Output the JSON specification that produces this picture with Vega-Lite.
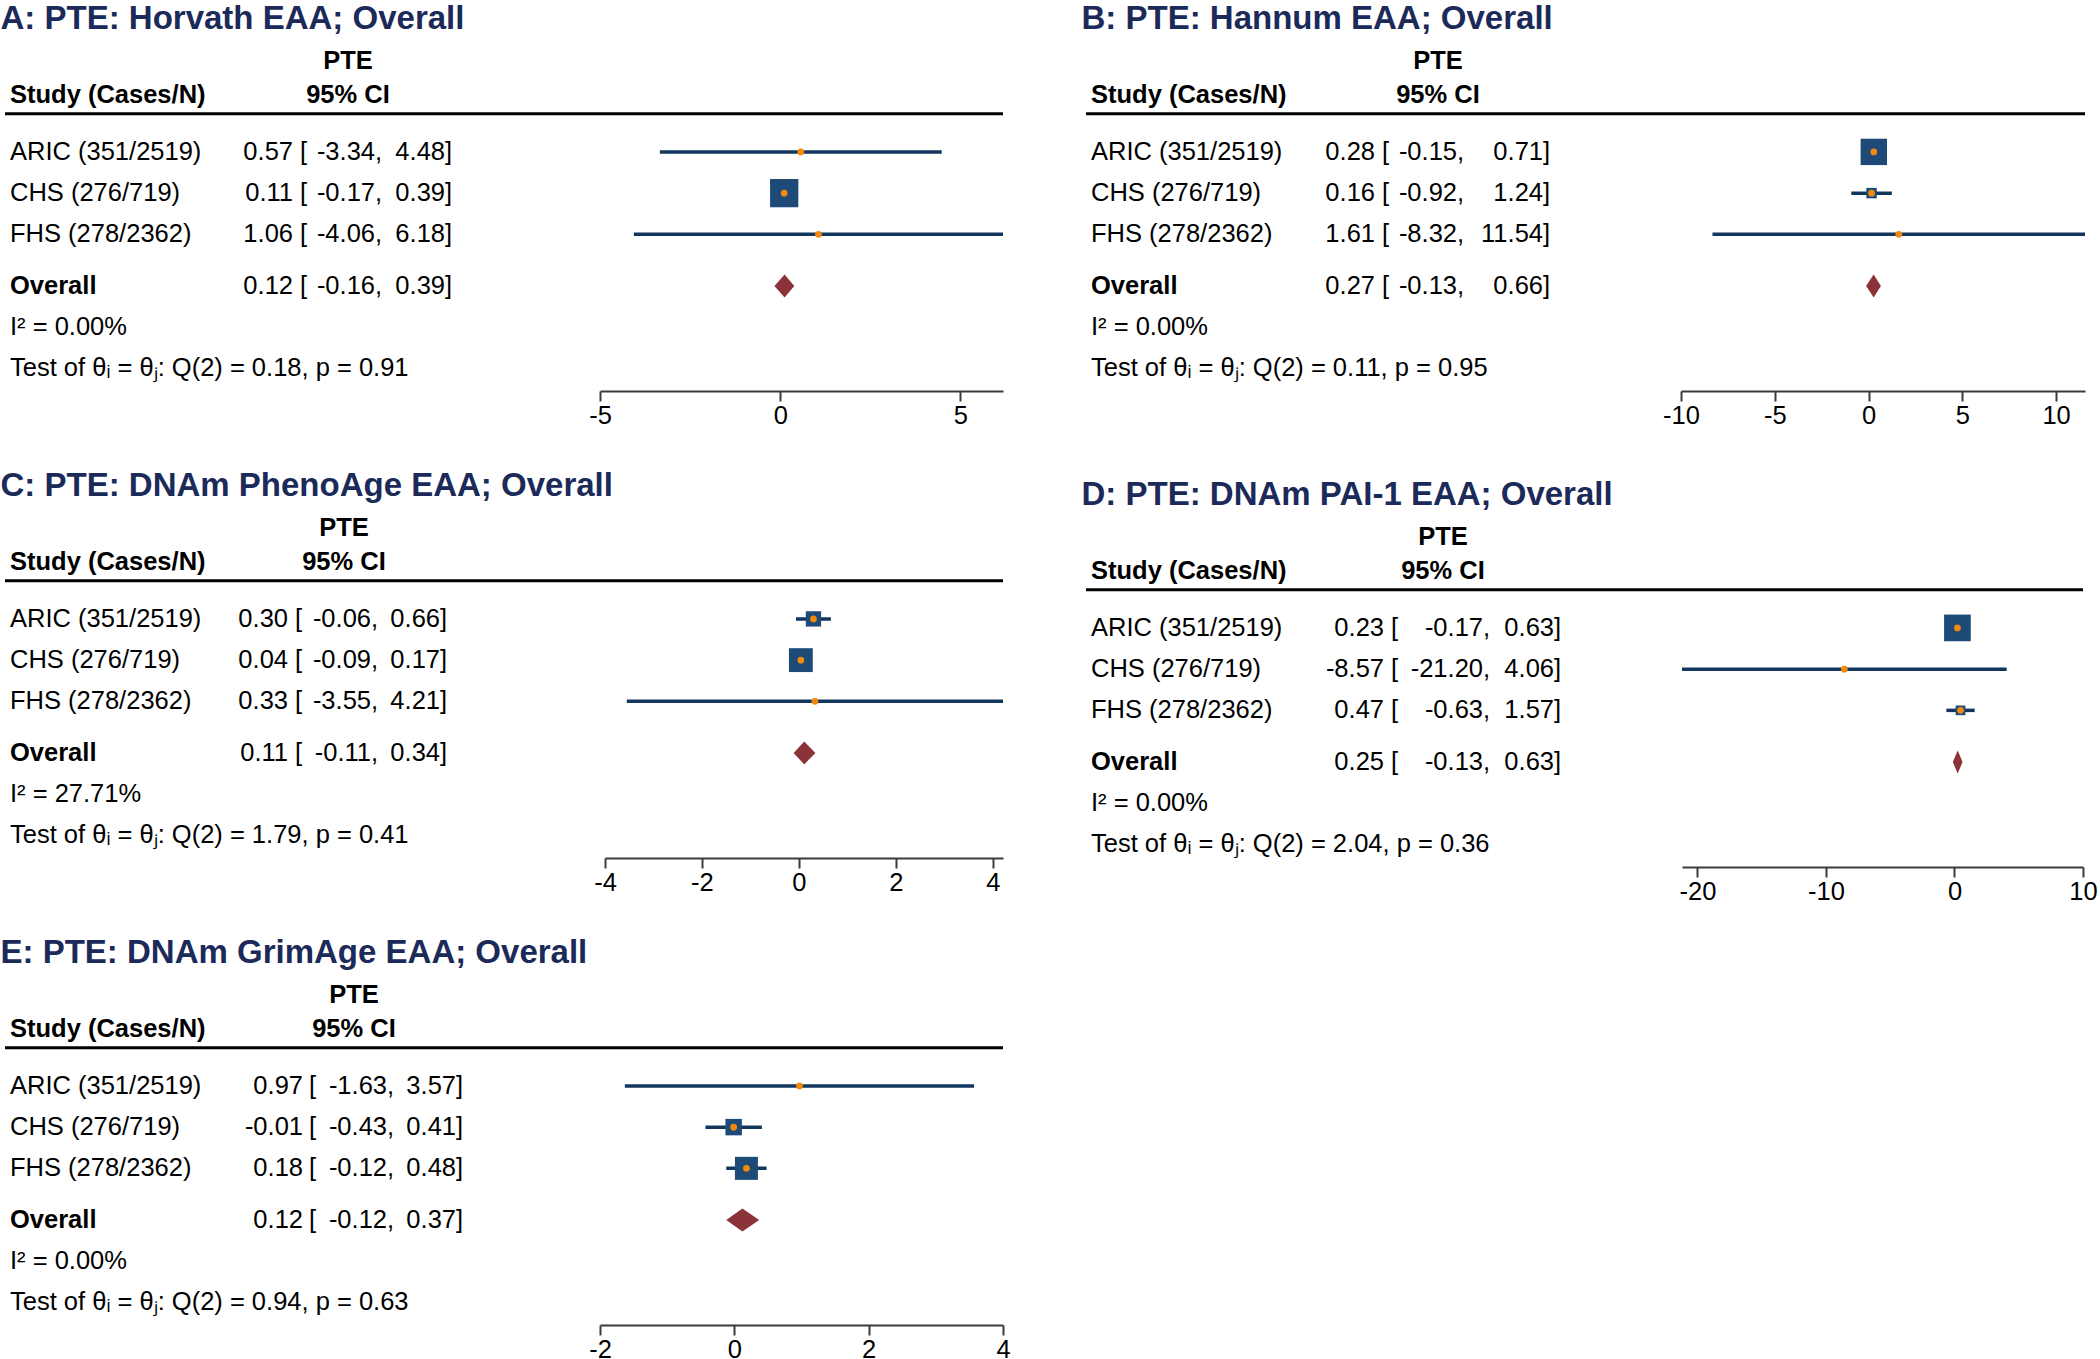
{
"$schema": "https://vega.github.io/schema/vega-lite/v6.json",
"padding": {"left": 0, "top": 3, "right": 0, "bottom": 0},
"datasets": {
"rows": [
{"panel":"A","row":"ARIC","label":"ARIC (351/2519)","est":0.57,"lo":-3.34,"hi":4.48,"w":0.51},
{"panel":"A","row":"CHS","label":"CHS (276/719)","est":0.11,"lo":-0.17,"hi":0.39,"w":99.19},
{"panel":"A","row":"FHS","label":"FHS (278/2362)","est":1.06,"lo":-4.06,"hi":6.18,"w":0.30},
{"panel":"A","row":"Overall","label":"Overall","est":0.12,"lo":-0.16,"hi":0.39},
{"panel":"B","row":"ARIC","label":"ARIC (351/2519)","est":0.28,"lo":-0.15,"hi":0.71,"w":86.2},
{"panel":"B","row":"CHS","label":"CHS (276/719)","est":0.16,"lo":-0.92,"hi":1.24,"w":13.6},
{"panel":"B","row":"FHS","label":"FHS (278/2362)","est":1.61,"lo":-8.32,"hi":11.54,"w":0.16},
{"panel":"B","row":"Overall","label":"Overall","est":0.27,"lo":-0.13,"hi":0.66},
{"panel":"C","row":"ARIC","label":"ARIC (351/2519)","est":0.30,"lo":-0.06,"hi":0.66,"w":29.0},
{"panel":"C","row":"CHS","label":"CHS (276/719)","est":0.04,"lo":-0.09,"hi":0.17,"w":70.6},
{"panel":"C","row":"FHS","label":"FHS (278/2362)","est":0.33,"lo":-3.55,"hi":4.21,"w":0.37},
{"panel":"C","row":"Overall","label":"Overall","est":0.11,"lo":-0.11,"hi":0.34},
{"panel":"D","row":"ARIC","label":"ARIC (351/2519)","est":0.23,"lo":-0.17,"hi":0.63,"w":88.2},
{"panel":"D","row":"CHS","label":"CHS (276/719)","est":-8.57,"lo":-21.20,"hi":4.06,"w":0.09},
{"panel":"D","row":"FHS","label":"FHS (278/2362)","est":0.47,"lo":-0.63,"hi":1.57,"w":11.7},
{"panel":"D","row":"Overall","label":"Overall","est":0.25,"lo":-0.13,"hi":0.63},
{"panel":"E","row":"ARIC","label":"ARIC (351/2519)","est":0.97,"lo":-1.63,"hi":3.57,"w":0.87},
{"panel":"E","row":"CHS","label":"CHS (276/719)","est":-0.01,"lo":-0.43,"hi":0.41,"w":33.5},
{"panel":"E","row":"FHS","label":"FHS (278/2362)","est":0.18,"lo":-0.12,"hi":0.48,"w":65.6},
{"panel":"E","row":"Overall","label":"Overall","est":0.12,"lo":-0.12,"hi":0.37}
],
"stats": [
{"panel":"A","i2":"I² = 0.00%","test":"Test of θᵢ = θⱼ: Q(2) = 0.18, p = 0.91"},
{"panel":"B","i2":"I² = 0.00%","test":"Test of θᵢ = θⱼ: Q(2) = 0.11, p = 0.95"},
{"panel":"C","i2":"I² = 27.71%","test":"Test of θᵢ = θⱼ: Q(2) = 1.79, p = 0.41"},
{"panel":"D","i2":"I² = 0.00%","test":"Test of θᵢ = θⱼ: Q(2) = 2.04, p = 0.36"},
{"panel":"E","i2":"I² = 0.00%","test":"Test of θᵢ = θⱼ: Q(2) = 0.94, p = 0.63"}
],
"headers": [
{"row":"PTE","col":"ci","label":"PTE"},
{"row":"Study","col":"ci","label":"95% CI"},
{"row":"Study","col":"study","label":"Study (Cases/N)"}
]
},
"spacing": 70,
"hconcat": [
{"spacing": 41, "vconcat": [
{"title": {"text": "A: PTE: Horvath EAA; Overall", "dx": -3}, "spacing": 0, "bounds": "flush", "hconcat": [
{"width": 595, "height": 337, "layer": [
{"data":{"name":"headers"},"transform":[{"filter":"datum.row === 'Study' && datum.col === 'study'"}],"mark":{"type":"text","align":"left","fontWeight":"bold"},"encoding":{"x":{"datum":5,"type":"quantitative","scale":{"domain":[0,595],"nice":false,"zero":false},"axis":null},"y":{"field":"row","type":"nominal","scale":{"type":"band","domain":["PTE","s1","s2","Study","s4","s5","rule","s7","s8","ARIC","s10","s11","s12","CHS","s14","s15","s16","FHS","s18","s19","s20","s21","Overall","s23","s24","s25","I2","s27","s28","s29","Test","s31"],"paddingInner":0,"paddingOuter":0.35,"align":0},"axis":null,"bandPosition":1},"text":{"field":"label"}}},
{"data":{"name":"headers"},"transform":[{"filter":"datum.row === 'Study' && datum.col === 'ci'"}],"mark":{"type":"text","align":"center","fontWeight":"bold"},"encoding":{"x":{"datum":343,"type":"quantitative","axis":null},"y":{"field":"row","type":"nominal","axis":null,"bandPosition":1},"text":{"field":"label"}}},
{"data":{"name":"headers"},"transform":[{"filter":"datum.row === 'PTE'"}],"mark":{"type":"text","align":"center","fontWeight":"bold"},"encoding":{"x":{"datum":343,"type":"quantitative","axis":null},"y":{"field":"row","type":"nominal","axis":null,"bandPosition":0.7},"text":{"field":"label"}}},
{"data":{"name":"headers"},"transform":[{"filter":"datum.row === 'PTE'"}],"mark":{"type":"rule","color":"black","strokeWidth":3},"encoding":{"y":{"datum":"s5","type":"nominal","axis":null,"bandPosition":0.8}}},
{"data":{"name":"rows"},"transform":[{"filter":"datum.panel === 'A' && datum.row !== 'Overall'"}],"mark":{"type":"text","align":"left"},"encoding":{"x":{"datum":5,"type":"quantitative","axis":null},"y":{"field":"row","type":"nominal","axis":null,"bandPosition":0.5},"text":{"field":"label"}}},
{"data":{"name":"rows"},"transform":[{"filter":"datum.panel === 'A' && datum.row === 'Overall'"}],"mark":{"type":"text","align":"left","fontWeight":"bold"},"encoding":{"x":{"datum":5,"type":"quantitative","axis":null},"y":{"field":"row","type":"nominal","axis":null,"bandPosition":0.5},"text":{"field":"label"}}},
{"data":{"name":"rows"},"transform":[{"filter":"datum.panel === 'A'"}],"mark":{"type":"text","align":"right"},"encoding":{"x":{"datum":288,"type":"quantitative","axis":null},"y":{"field":"row","type":"nominal","axis":null,"bandPosition":0.5},"text":{"field":"est","type":"quantitative","format":".2f"}}},
{"data":{"name":"rows"},"transform":[{"filter":"datum.panel === 'A'"}],"mark":{"type":"text","align":"left","text":"["},"encoding":{"x":{"datum":295,"type":"quantitative","axis":null},"y":{"field":"row","type":"nominal","axis":null,"bandPosition":0.5}}},
{"data":{"name":"rows"},"transform":[{"filter":"datum.panel === 'A'"}],"mark":{"type":"text","align":"right"},"encoding":{"x":{"datum":370,"type":"quantitative","axis":null},"y":{"field":"row","type":"nominal","axis":null,"bandPosition":0.5},"text":{"field":"lo","type":"quantitative","format":".2f"}}},
{"data":{"name":"rows"},"transform":[{"filter":"datum.panel === 'A'"}],"mark":{"type":"text","align":"left","text":","},"encoding":{"x":{"datum":370,"type":"quantitative","axis":null},"y":{"field":"row","type":"nominal","axis":null,"bandPosition":0.5}}},
{"data":{"name":"rows"},"transform":[{"filter":"datum.panel === 'A'"}],"mark":{"type":"text","align":"right"},"encoding":{"x":{"datum":440,"type":"quantitative","axis":null},"y":{"field":"row","type":"nominal","axis":null,"bandPosition":0.5},"text":{"field":"hi","type":"quantitative","format":".2f"}}},
{"data":{"name":"rows"},"transform":[{"filter":"datum.panel === 'A'"}],"mark":{"type":"text","align":"left","text":"]"},"encoding":{"x":{"datum":440,"type":"quantitative","axis":null},"y":{"field":"row","type":"nominal","axis":null,"bandPosition":0.5}}},
{"data":{"name":"stats"},"transform":[{"filter":"datum.panel === 'A'"}],"mark":{"type":"text","align":"left"},"encoding":{"x":{"datum":5,"type":"quantitative","axis":null},"y":{"datum":"I2","type":"nominal","axis":null,"bandPosition":0.5},"text":{"field":"i2"}}},
{"data":{"name":"stats"},"transform":[{"filter":"datum.panel === 'A'"}],"mark":{"type":"text","align":"left"},"encoding":{"x":{"datum":5,"type":"quantitative","axis":null},"y":{"datum":"Test","type":"nominal","axis":null,"bandPosition":0.5},"text":{"field":"test"}}}
]},
{"width": 403, "height": 337, "layer": [
{"data":{"name":"headers"},"transform":[{"filter":"datum.row === 'PTE'"}],"mark":{"type":"rule","color":"black","strokeWidth":3},"encoding":{"y":{"datum":"s5","type":"nominal","scale":{"type":"band","domain":["PTE","s1","s2","Study","s4","s5","rule","s7","s8","ARIC","s10","s11","s12","CHS","s14","s15","s16","FHS","s18","s19","s20","s21","Overall","s23","s24","s25","I2","s27","s28","s29","Test","s31"],"paddingInner":0,"paddingOuter":0.35,"align":0},"axis":null,"bandPosition":0.8}}},
{"data":{"name":"rows"},"transform":[{"filter":"datum.panel === 'A' && datum.row !== 'Overall'"}],"mark":{"type":"rule","color":"#12365e","strokeWidth":3.5},"encoding":{"x":{"field":"lo","type":"quantitative","scale":{"domain":[-5,6.18],"nice":false,"zero":false},"axis":{"values":[-5,0,5],"title":null,"grid":false,"labelFlush":false,"labelOverlap":false}},"x2":{"field":"hi"},"y":{"field":"row","type":"nominal","axis":null,"bandPosition":0.5}}},
{"data":{"name":"rows"},"transform":[{"filter":"datum.panel === 'A' && datum.row !== 'Overall'"}],"mark":{"type":"point","shape":"square","filled":true,"color":"#1d4a76","opacity":1},"encoding":{"x":{"field":"est","type":"quantitative","axis":{"values":[-5,0,5],"title":null,"grid":false,"labelFlush":false,"labelOverlap":false}},"y":{"field":"row","type":"nominal","axis":null,"bandPosition":0.5},"size":{"field":"w","type":"quantitative","scale":{"range":[0,800],"zero":true},"legend":null}}},
{"data":{"name":"rows"},"transform":[{"filter":"datum.panel === 'A' && datum.row !== 'Overall'"}],"mark":{"type":"point","shape":"circle","filled":true,"color":"#f0890c","size":45,"opacity":1},"encoding":{"x":{"field":"est","type":"quantitative","axis":{"values":[-5,0,5],"title":null,"grid":false,"labelFlush":false,"labelOverlap":false}},"y":{"field":"row","type":"nominal","axis":null,"bandPosition":0.5}}},
{"data":{"name":"rows"},"transform":[{"filter":"datum.panel === 'A' && datum.row === 'Overall'"}],"mark":{"type":"point","shape":"M-0.878,0L0,-1L0.846,0L0,1Z","filled":true,"color":"#8c3339","size":529,"opacity":1},"encoding":{"x":{"field":"est","type":"quantitative","axis":{"values":[-5,0,5],"title":null,"grid":false,"labelFlush":false,"labelOverlap":false}},"y":{"field":"row","type":"nominal","axis":null,"bandPosition":0.5}}}
]}
]},
{"title": {"text": "C: PTE: DNAm PhenoAge EAA; Overall", "dx": -3}, "spacing": 0, "bounds": "flush", "hconcat": [
{"width": 600, "height": 337, "layer": [
{"data":{"name":"headers"},"transform":[{"filter":"datum.row === 'Study' && datum.col === 'study'"}],"mark":{"type":"text","align":"left","fontWeight":"bold"},"encoding":{"x":{"datum":5,"type":"quantitative","scale":{"domain":[0,600],"nice":false,"zero":false},"axis":null},"y":{"field":"row","type":"nominal","scale":{"type":"band","domain":["PTE","s1","s2","Study","s4","s5","rule","s7","s8","ARIC","s10","s11","s12","CHS","s14","s15","s16","FHS","s18","s19","s20","s21","Overall","s23","s24","s25","I2","s27","s28","s29","Test","s31"],"paddingInner":0,"paddingOuter":0.35,"align":0},"axis":null,"bandPosition":1},"text":{"field":"label"}}},
{"data":{"name":"headers"},"transform":[{"filter":"datum.row === 'Study' && datum.col === 'ci'"}],"mark":{"type":"text","align":"center","fontWeight":"bold"},"encoding":{"x":{"datum":339,"type":"quantitative","axis":null},"y":{"field":"row","type":"nominal","axis":null,"bandPosition":1},"text":{"field":"label"}}},
{"data":{"name":"headers"},"transform":[{"filter":"datum.row === 'PTE'"}],"mark":{"type":"text","align":"center","fontWeight":"bold"},"encoding":{"x":{"datum":339,"type":"quantitative","axis":null},"y":{"field":"row","type":"nominal","axis":null,"bandPosition":0.7},"text":{"field":"label"}}},
{"data":{"name":"headers"},"transform":[{"filter":"datum.row === 'PTE'"}],"mark":{"type":"rule","color":"black","strokeWidth":3},"encoding":{"y":{"datum":"s5","type":"nominal","axis":null,"bandPosition":0.8}}},
{"data":{"name":"rows"},"transform":[{"filter":"datum.panel === 'C' && datum.row !== 'Overall'"}],"mark":{"type":"text","align":"left"},"encoding":{"x":{"datum":5,"type":"quantitative","axis":null},"y":{"field":"row","type":"nominal","axis":null,"bandPosition":0.5},"text":{"field":"label"}}},
{"data":{"name":"rows"},"transform":[{"filter":"datum.panel === 'C' && datum.row === 'Overall'"}],"mark":{"type":"text","align":"left","fontWeight":"bold"},"encoding":{"x":{"datum":5,"type":"quantitative","axis":null},"y":{"field":"row","type":"nominal","axis":null,"bandPosition":0.5},"text":{"field":"label"}}},
{"data":{"name":"rows"},"transform":[{"filter":"datum.panel === 'C'"}],"mark":{"type":"text","align":"right"},"encoding":{"x":{"datum":283,"type":"quantitative","axis":null},"y":{"field":"row","type":"nominal","axis":null,"bandPosition":0.5},"text":{"field":"est","type":"quantitative","format":".2f"}}},
{"data":{"name":"rows"},"transform":[{"filter":"datum.panel === 'C'"}],"mark":{"type":"text","align":"left","text":"["},"encoding":{"x":{"datum":290,"type":"quantitative","axis":null},"y":{"field":"row","type":"nominal","axis":null,"bandPosition":0.5}}},
{"data":{"name":"rows"},"transform":[{"filter":"datum.panel === 'C'"}],"mark":{"type":"text","align":"right"},"encoding":{"x":{"datum":366,"type":"quantitative","axis":null},"y":{"field":"row","type":"nominal","axis":null,"bandPosition":0.5},"text":{"field":"lo","type":"quantitative","format":".2f"}}},
{"data":{"name":"rows"},"transform":[{"filter":"datum.panel === 'C'"}],"mark":{"type":"text","align":"left","text":","},"encoding":{"x":{"datum":366,"type":"quantitative","axis":null},"y":{"field":"row","type":"nominal","axis":null,"bandPosition":0.5}}},
{"data":{"name":"rows"},"transform":[{"filter":"datum.panel === 'C'"}],"mark":{"type":"text","align":"right"},"encoding":{"x":{"datum":435,"type":"quantitative","axis":null},"y":{"field":"row","type":"nominal","axis":null,"bandPosition":0.5},"text":{"field":"hi","type":"quantitative","format":".2f"}}},
{"data":{"name":"rows"},"transform":[{"filter":"datum.panel === 'C'"}],"mark":{"type":"text","align":"left","text":"]"},"encoding":{"x":{"datum":435,"type":"quantitative","axis":null},"y":{"field":"row","type":"nominal","axis":null,"bandPosition":0.5}}},
{"data":{"name":"stats"},"transform":[{"filter":"datum.panel === 'C'"}],"mark":{"type":"text","align":"left"},"encoding":{"x":{"datum":5,"type":"quantitative","axis":null},"y":{"datum":"I2","type":"nominal","axis":null,"bandPosition":0.5},"text":{"field":"i2"}}},
{"data":{"name":"stats"},"transform":[{"filter":"datum.panel === 'C'"}],"mark":{"type":"text","align":"left"},"encoding":{"x":{"datum":5,"type":"quantitative","axis":null},"y":{"datum":"Test","type":"nominal","axis":null,"bandPosition":0.5},"text":{"field":"test"}}}
]},
{"width": 398, "height": 337, "layer": [
{"data":{"name":"headers"},"transform":[{"filter":"datum.row === 'PTE'"}],"mark":{"type":"rule","color":"black","strokeWidth":3},"encoding":{"y":{"datum":"s5","type":"nominal","scale":{"type":"band","domain":["PTE","s1","s2","Study","s4","s5","rule","s7","s8","ARIC","s10","s11","s12","CHS","s14","s15","s16","FHS","s18","s19","s20","s21","Overall","s23","s24","s25","I2","s27","s28","s29","Test","s31"],"paddingInner":0,"paddingOuter":0.35,"align":0},"axis":null,"bandPosition":0.8}}},
{"data":{"name":"rows"},"transform":[{"filter":"datum.panel === 'C' && datum.row !== 'Overall'"}],"mark":{"type":"rule","color":"#12365e","strokeWidth":3.5},"encoding":{"x":{"field":"lo","type":"quantitative","scale":{"domain":[-4,4.21],"nice":false,"zero":false},"axis":{"values":[-4,-2,0,2,4],"title":null,"grid":false,"labelFlush":false,"labelOverlap":false}},"x2":{"field":"hi"},"y":{"field":"row","type":"nominal","axis":null,"bandPosition":0.5}}},
{"data":{"name":"rows"},"transform":[{"filter":"datum.panel === 'C' && datum.row !== 'Overall'"}],"mark":{"type":"point","shape":"square","filled":true,"color":"#1d4a76","opacity":1},"encoding":{"x":{"field":"est","type":"quantitative","axis":{"values":[-4,-2,0,2,4],"title":null,"grid":false,"labelFlush":false,"labelOverlap":false}},"y":{"field":"row","type":"nominal","axis":null,"bandPosition":0.5},"size":{"field":"w","type":"quantitative","scale":{"range":[0,800],"zero":true},"legend":null}}},
{"data":{"name":"rows"},"transform":[{"filter":"datum.panel === 'C' && datum.row !== 'Overall'"}],"mark":{"type":"point","shape":"circle","filled":true,"color":"#f0890c","size":45,"opacity":1},"encoding":{"x":{"field":"est","type":"quantitative","axis":{"values":[-4,-2,0,2,4],"title":null,"grid":false,"labelFlush":false,"labelOverlap":false}},"y":{"field":"row","type":"nominal","axis":null,"bandPosition":0.5}}},
{"data":{"name":"rows"},"transform":[{"filter":"datum.panel === 'C' && datum.row === 'Overall'"}],"mark":{"type":"point","shape":"M-0.928,0L0,-1L0.970,0L0,1Z","filled":true,"color":"#8c3339","size":529,"opacity":1},"encoding":{"x":{"field":"est","type":"quantitative","axis":{"values":[-4,-2,0,2,4],"title":null,"grid":false,"labelFlush":false,"labelOverlap":false}},"y":{"field":"row","type":"nominal","axis":null,"bandPosition":0.5}}}
]}
]},
{"title": {"text": "E: PTE: DNAm GrimAge EAA; Overall", "dx": -3}, "spacing": 0, "bounds": "flush", "hconcat": [
{"width": 595, "height": 337, "layer": [
{"data":{"name":"headers"},"transform":[{"filter":"datum.row === 'Study' && datum.col === 'study'"}],"mark":{"type":"text","align":"left","fontWeight":"bold"},"encoding":{"x":{"datum":5,"type":"quantitative","scale":{"domain":[0,595],"nice":false,"zero":false},"axis":null},"y":{"field":"row","type":"nominal","scale":{"type":"band","domain":["PTE","s1","s2","Study","s4","s5","rule","s7","s8","ARIC","s10","s11","s12","CHS","s14","s15","s16","FHS","s18","s19","s20","s21","Overall","s23","s24","s25","I2","s27","s28","s29","Test","s31"],"paddingInner":0,"paddingOuter":0.35,"align":0},"axis":null,"bandPosition":1},"text":{"field":"label"}}},
{"data":{"name":"headers"},"transform":[{"filter":"datum.row === 'Study' && datum.col === 'ci'"}],"mark":{"type":"text","align":"center","fontWeight":"bold"},"encoding":{"x":{"datum":349,"type":"quantitative","axis":null},"y":{"field":"row","type":"nominal","axis":null,"bandPosition":1},"text":{"field":"label"}}},
{"data":{"name":"headers"},"transform":[{"filter":"datum.row === 'PTE'"}],"mark":{"type":"text","align":"center","fontWeight":"bold"},"encoding":{"x":{"datum":349,"type":"quantitative","axis":null},"y":{"field":"row","type":"nominal","axis":null,"bandPosition":0.7},"text":{"field":"label"}}},
{"data":{"name":"headers"},"transform":[{"filter":"datum.row === 'PTE'"}],"mark":{"type":"rule","color":"black","strokeWidth":3},"encoding":{"y":{"datum":"s5","type":"nominal","axis":null,"bandPosition":0.8}}},
{"data":{"name":"rows"},"transform":[{"filter":"datum.panel === 'E' && datum.row !== 'Overall'"}],"mark":{"type":"text","align":"left"},"encoding":{"x":{"datum":5,"type":"quantitative","axis":null},"y":{"field":"row","type":"nominal","axis":null,"bandPosition":0.5},"text":{"field":"label"}}},
{"data":{"name":"rows"},"transform":[{"filter":"datum.panel === 'E' && datum.row === 'Overall'"}],"mark":{"type":"text","align":"left","fontWeight":"bold"},"encoding":{"x":{"datum":5,"type":"quantitative","axis":null},"y":{"field":"row","type":"nominal","axis":null,"bandPosition":0.5},"text":{"field":"label"}}},
{"data":{"name":"rows"},"transform":[{"filter":"datum.panel === 'E'"}],"mark":{"type":"text","align":"right"},"encoding":{"x":{"datum":298,"type":"quantitative","axis":null},"y":{"field":"row","type":"nominal","axis":null,"bandPosition":0.5},"text":{"field":"est","type":"quantitative","format":".2f"}}},
{"data":{"name":"rows"},"transform":[{"filter":"datum.panel === 'E'"}],"mark":{"type":"text","align":"left","text":"["},"encoding":{"x":{"datum":304,"type":"quantitative","axis":null},"y":{"field":"row","type":"nominal","axis":null,"bandPosition":0.5}}},
{"data":{"name":"rows"},"transform":[{"filter":"datum.panel === 'E'"}],"mark":{"type":"text","align":"right"},"encoding":{"x":{"datum":382,"type":"quantitative","axis":null},"y":{"field":"row","type":"nominal","axis":null,"bandPosition":0.5},"text":{"field":"lo","type":"quantitative","format":".2f"}}},
{"data":{"name":"rows"},"transform":[{"filter":"datum.panel === 'E'"}],"mark":{"type":"text","align":"left","text":","},"encoding":{"x":{"datum":382,"type":"quantitative","axis":null},"y":{"field":"row","type":"nominal","axis":null,"bandPosition":0.5}}},
{"data":{"name":"rows"},"transform":[{"filter":"datum.panel === 'E'"}],"mark":{"type":"text","align":"right"},"encoding":{"x":{"datum":451,"type":"quantitative","axis":null},"y":{"field":"row","type":"nominal","axis":null,"bandPosition":0.5},"text":{"field":"hi","type":"quantitative","format":".2f"}}},
{"data":{"name":"rows"},"transform":[{"filter":"datum.panel === 'E'"}],"mark":{"type":"text","align":"left","text":"]"},"encoding":{"x":{"datum":451,"type":"quantitative","axis":null},"y":{"field":"row","type":"nominal","axis":null,"bandPosition":0.5}}},
{"data":{"name":"stats"},"transform":[{"filter":"datum.panel === 'E'"}],"mark":{"type":"text","align":"left"},"encoding":{"x":{"datum":5,"type":"quantitative","axis":null},"y":{"datum":"I2","type":"nominal","axis":null,"bandPosition":0.5},"text":{"field":"i2"}}},
{"data":{"name":"stats"},"transform":[{"filter":"datum.panel === 'E'"}],"mark":{"type":"text","align":"left"},"encoding":{"x":{"datum":5,"type":"quantitative","axis":null},"y":{"datum":"Test","type":"nominal","axis":null,"bandPosition":0.5},"text":{"field":"test"}}}
]},
{"width": 403, "height": 337, "layer": [
{"data":{"name":"headers"},"transform":[{"filter":"datum.row === 'PTE'"}],"mark":{"type":"rule","color":"black","strokeWidth":3},"encoding":{"y":{"datum":"s5","type":"nominal","scale":{"type":"band","domain":["PTE","s1","s2","Study","s4","s5","rule","s7","s8","ARIC","s10","s11","s12","CHS","s14","s15","s16","FHS","s18","s19","s20","s21","Overall","s23","s24","s25","I2","s27","s28","s29","Test","s31"],"paddingInner":0,"paddingOuter":0.35,"align":0},"axis":null,"bandPosition":0.8}}},
{"data":{"name":"rows"},"transform":[{"filter":"datum.panel === 'E' && datum.row !== 'Overall'"}],"mark":{"type":"rule","color":"#12365e","strokeWidth":3.5},"encoding":{"x":{"field":"lo","type":"quantitative","scale":{"domain":[-2,4],"nice":false,"zero":false},"axis":{"values":[-2,0,2,4],"title":null,"grid":false,"labelFlush":false,"labelOverlap":false}},"x2":{"field":"hi"},"y":{"field":"row","type":"nominal","axis":null,"bandPosition":0.5}}},
{"data":{"name":"rows"},"transform":[{"filter":"datum.panel === 'E' && datum.row !== 'Overall'"}],"mark":{"type":"point","shape":"square","filled":true,"color":"#1d4a76","opacity":1},"encoding":{"x":{"field":"est","type":"quantitative","axis":{"values":[-2,0,2,4],"title":null,"grid":false,"labelFlush":false,"labelOverlap":false}},"y":{"field":"row","type":"nominal","axis":null,"bandPosition":0.5},"size":{"field":"w","type":"quantitative","scale":{"range":[0,800],"zero":true},"legend":null}}},
{"data":{"name":"rows"},"transform":[{"filter":"datum.panel === 'E' && datum.row !== 'Overall'"}],"mark":{"type":"point","shape":"circle","filled":true,"color":"#f0890c","size":45,"opacity":1},"encoding":{"x":{"field":"est","type":"quantitative","axis":{"values":[-2,0,2,4],"title":null,"grid":false,"labelFlush":false,"labelOverlap":false}},"y":{"field":"row","type":"nominal","axis":null,"bandPosition":0.5}}},
{"data":{"name":"rows"},"transform":[{"filter":"datum.panel === 'E' && datum.row === 'Overall'"}],"mark":{"type":"point","shape":"M-1.402,0L0,-1L1.460,0L0,1Z","filled":true,"color":"#8c3339","size":529,"opacity":1},"encoding":{"x":{"field":"est","type":"quantitative","axis":{"values":[-2,0,2,4],"title":null,"grid":false,"labelFlush":false,"labelOverlap":false}},"y":{"field":"row","type":"nominal","axis":null,"bandPosition":0.5}}}
]}
]}
]},
{"spacing": 50, "vconcat": [
{"title": {"text": "B: PTE: Hannum EAA; Overall", "dx": -3}, "spacing": 0, "bounds": "flush", "hconcat": [
{"width": 595, "height": 337, "layer": [
{"data":{"name":"headers"},"transform":[{"filter":"datum.row === 'Study' && datum.col === 'study'"}],"mark":{"type":"text","align":"left","fontWeight":"bold"},"encoding":{"x":{"datum":5,"type":"quantitative","scale":{"domain":[0,595],"nice":false,"zero":false},"axis":null},"y":{"field":"row","type":"nominal","scale":{"type":"band","domain":["PTE","s1","s2","Study","s4","s5","rule","s7","s8","ARIC","s10","s11","s12","CHS","s14","s15","s16","FHS","s18","s19","s20","s21","Overall","s23","s24","s25","I2","s27","s28","s29","Test","s31"],"paddingInner":0,"paddingOuter":0.35,"align":0},"axis":null,"bandPosition":1},"text":{"field":"label"}}},
{"data":{"name":"headers"},"transform":[{"filter":"datum.row === 'Study' && datum.col === 'ci'"}],"mark":{"type":"text","align":"center","fontWeight":"bold"},"encoding":{"x":{"datum":352,"type":"quantitative","axis":null},"y":{"field":"row","type":"nominal","axis":null,"bandPosition":1},"text":{"field":"label"}}},
{"data":{"name":"headers"},"transform":[{"filter":"datum.row === 'PTE'"}],"mark":{"type":"text","align":"center","fontWeight":"bold"},"encoding":{"x":{"datum":352,"type":"quantitative","axis":null},"y":{"field":"row","type":"nominal","axis":null,"bandPosition":0.7},"text":{"field":"label"}}},
{"data":{"name":"headers"},"transform":[{"filter":"datum.row === 'PTE'"}],"mark":{"type":"rule","color":"black","strokeWidth":3},"encoding":{"y":{"datum":"s5","type":"nominal","axis":null,"bandPosition":0.8}}},
{"data":{"name":"rows"},"transform":[{"filter":"datum.panel === 'B' && datum.row !== 'Overall'"}],"mark":{"type":"text","align":"left"},"encoding":{"x":{"datum":5,"type":"quantitative","axis":null},"y":{"field":"row","type":"nominal","axis":null,"bandPosition":0.5},"text":{"field":"label"}}},
{"data":{"name":"rows"},"transform":[{"filter":"datum.panel === 'B' && datum.row === 'Overall'"}],"mark":{"type":"text","align":"left","fontWeight":"bold"},"encoding":{"x":{"datum":5,"type":"quantitative","axis":null},"y":{"field":"row","type":"nominal","axis":null,"bandPosition":0.5},"text":{"field":"label"}}},
{"data":{"name":"rows"},"transform":[{"filter":"datum.panel === 'B'"}],"mark":{"type":"text","align":"right"},"encoding":{"x":{"datum":289,"type":"quantitative","axis":null},"y":{"field":"row","type":"nominal","axis":null,"bandPosition":0.5},"text":{"field":"est","type":"quantitative","format":".2f"}}},
{"data":{"name":"rows"},"transform":[{"filter":"datum.panel === 'B'"}],"mark":{"type":"text","align":"left","text":"["},"encoding":{"x":{"datum":296,"type":"quantitative","axis":null},"y":{"field":"row","type":"nominal","axis":null,"bandPosition":0.5}}},
{"data":{"name":"rows"},"transform":[{"filter":"datum.panel === 'B'"}],"mark":{"type":"text","align":"right"},"encoding":{"x":{"datum":371,"type":"quantitative","axis":null},"y":{"field":"row","type":"nominal","axis":null,"bandPosition":0.5},"text":{"field":"lo","type":"quantitative","format":".2f"}}},
{"data":{"name":"rows"},"transform":[{"filter":"datum.panel === 'B'"}],"mark":{"type":"text","align":"left","text":","},"encoding":{"x":{"datum":371,"type":"quantitative","axis":null},"y":{"field":"row","type":"nominal","axis":null,"bandPosition":0.5}}},
{"data":{"name":"rows"},"transform":[{"filter":"datum.panel === 'B'"}],"mark":{"type":"text","align":"right"},"encoding":{"x":{"datum":457,"type":"quantitative","axis":null},"y":{"field":"row","type":"nominal","axis":null,"bandPosition":0.5},"text":{"field":"hi","type":"quantitative","format":".2f"}}},
{"data":{"name":"rows"},"transform":[{"filter":"datum.panel === 'B'"}],"mark":{"type":"text","align":"left","text":"]"},"encoding":{"x":{"datum":457,"type":"quantitative","axis":null},"y":{"field":"row","type":"nominal","axis":null,"bandPosition":0.5}}},
{"data":{"name":"stats"},"transform":[{"filter":"datum.panel === 'B'"}],"mark":{"type":"text","align":"left"},"encoding":{"x":{"datum":5,"type":"quantitative","axis":null},"y":{"datum":"I2","type":"nominal","axis":null,"bandPosition":0.5},"text":{"field":"i2"}}},
{"data":{"name":"stats"},"transform":[{"filter":"datum.panel === 'B'"}],"mark":{"type":"text","align":"left"},"encoding":{"x":{"datum":5,"type":"quantitative","axis":null},"y":{"datum":"Test","type":"nominal","axis":null,"bandPosition":0.5},"text":{"field":"test"}}}
]},
{"width": 404, "height": 337, "layer": [
{"data":{"name":"headers"},"transform":[{"filter":"datum.row === 'PTE'"}],"mark":{"type":"rule","color":"black","strokeWidth":3},"encoding":{"y":{"datum":"s5","type":"nominal","scale":{"type":"band","domain":["PTE","s1","s2","Study","s4","s5","rule","s7","s8","ARIC","s10","s11","s12","CHS","s14","s15","s16","FHS","s18","s19","s20","s21","Overall","s23","s24","s25","I2","s27","s28","s29","Test","s31"],"paddingInner":0,"paddingOuter":0.35,"align":0},"axis":null,"bandPosition":0.8}}},
{"data":{"name":"rows"},"transform":[{"filter":"datum.panel === 'B' && datum.row !== 'Overall'"}],"mark":{"type":"rule","color":"#12365e","strokeWidth":3.5},"encoding":{"x":{"field":"lo","type":"quantitative","scale":{"domain":[-10,11.54],"nice":false,"zero":false},"axis":{"values":[-10,-5,0,5,10],"title":null,"grid":false,"labelFlush":false,"labelOverlap":false}},"x2":{"field":"hi"},"y":{"field":"row","type":"nominal","axis":null,"bandPosition":0.5}}},
{"data":{"name":"rows"},"transform":[{"filter":"datum.panel === 'B' && datum.row !== 'Overall'"}],"mark":{"type":"point","shape":"square","filled":true,"color":"#1d4a76","opacity":1},"encoding":{"x":{"field":"est","type":"quantitative","axis":{"values":[-10,-5,0,5,10],"title":null,"grid":false,"labelFlush":false,"labelOverlap":false}},"y":{"field":"row","type":"nominal","axis":null,"bandPosition":0.5},"size":{"field":"w","type":"quantitative","scale":{"range":[0,800],"zero":true},"legend":null}}},
{"data":{"name":"rows"},"transform":[{"filter":"datum.panel === 'B' && datum.row !== 'Overall'"}],"mark":{"type":"point","shape":"circle","filled":true,"color":"#f0890c","size":45,"opacity":1},"encoding":{"x":{"field":"est","type":"quantitative","axis":{"values":[-10,-5,0,5,10],"title":null,"grid":false,"labelFlush":false,"labelOverlap":false}},"y":{"field":"row","type":"nominal","axis":null,"bandPosition":0.5}}},
{"data":{"name":"rows"},"transform":[{"filter":"datum.panel === 'B' && datum.row === 'Overall'"}],"mark":{"type":"point","shape":"M-0.652,0L0,-1L0.636,0L0,1Z","filled":true,"color":"#8c3339","size":529,"opacity":1},"encoding":{"x":{"field":"est","type":"quantitative","axis":{"values":[-10,-5,0,5,10],"title":null,"grid":false,"labelFlush":false,"labelOverlap":false}},"y":{"field":"row","type":"nominal","axis":null,"bandPosition":0.5}}}
]}
]},
{"title": {"text": "D: PTE: DNAm PAI-1 EAA; Overall", "dx": -3}, "spacing": 0, "bounds": "flush", "hconcat": [
{"width": 596, "height": 337, "layer": [
{"data":{"name":"headers"},"transform":[{"filter":"datum.row === 'Study' && datum.col === 'study'"}],"mark":{"type":"text","align":"left","fontWeight":"bold"},"encoding":{"x":{"datum":5,"type":"quantitative","scale":{"domain":[0,596],"nice":false,"zero":false},"axis":null},"y":{"field":"row","type":"nominal","scale":{"type":"band","domain":["PTE","s1","s2","Study","s4","s5","rule","s7","s8","ARIC","s10","s11","s12","CHS","s14","s15","s16","FHS","s18","s19","s20","s21","Overall","s23","s24","s25","I2","s27","s28","s29","Test","s31"],"paddingInner":0,"paddingOuter":0.35,"align":0},"axis":null,"bandPosition":1},"text":{"field":"label"}}},
{"data":{"name":"headers"},"transform":[{"filter":"datum.row === 'Study' && datum.col === 'ci'"}],"mark":{"type":"text","align":"center","fontWeight":"bold"},"encoding":{"x":{"datum":357,"type":"quantitative","axis":null},"y":{"field":"row","type":"nominal","axis":null,"bandPosition":1},"text":{"field":"label"}}},
{"data":{"name":"headers"},"transform":[{"filter":"datum.row === 'PTE'"}],"mark":{"type":"text","align":"center","fontWeight":"bold"},"encoding":{"x":{"datum":357,"type":"quantitative","axis":null},"y":{"field":"row","type":"nominal","axis":null,"bandPosition":0.7},"text":{"field":"label"}}},
{"data":{"name":"headers"},"transform":[{"filter":"datum.row === 'PTE'"}],"mark":{"type":"rule","color":"black","strokeWidth":3},"encoding":{"y":{"datum":"s5","type":"nominal","axis":null,"bandPosition":0.8}}},
{"data":{"name":"rows"},"transform":[{"filter":"datum.panel === 'D' && datum.row !== 'Overall'"}],"mark":{"type":"text","align":"left"},"encoding":{"x":{"datum":5,"type":"quantitative","axis":null},"y":{"field":"row","type":"nominal","axis":null,"bandPosition":0.5},"text":{"field":"label"}}},
{"data":{"name":"rows"},"transform":[{"filter":"datum.panel === 'D' && datum.row === 'Overall'"}],"mark":{"type":"text","align":"left","fontWeight":"bold"},"encoding":{"x":{"datum":5,"type":"quantitative","axis":null},"y":{"field":"row","type":"nominal","axis":null,"bandPosition":0.5},"text":{"field":"label"}}},
{"data":{"name":"rows"},"transform":[{"filter":"datum.panel === 'D'"}],"mark":{"type":"text","align":"right"},"encoding":{"x":{"datum":298,"type":"quantitative","axis":null},"y":{"field":"row","type":"nominal","axis":null,"bandPosition":0.5},"text":{"field":"est","type":"quantitative","format":".2f"}}},
{"data":{"name":"rows"},"transform":[{"filter":"datum.panel === 'D'"}],"mark":{"type":"text","align":"left","text":"["},"encoding":{"x":{"datum":305,"type":"quantitative","axis":null},"y":{"field":"row","type":"nominal","axis":null,"bandPosition":0.5}}},
{"data":{"name":"rows"},"transform":[{"filter":"datum.panel === 'D'"}],"mark":{"type":"text","align":"right"},"encoding":{"x":{"datum":397,"type":"quantitative","axis":null},"y":{"field":"row","type":"nominal","axis":null,"bandPosition":0.5},"text":{"field":"lo","type":"quantitative","format":".2f"}}},
{"data":{"name":"rows"},"transform":[{"filter":"datum.panel === 'D'"}],"mark":{"type":"text","align":"left","text":","},"encoding":{"x":{"datum":397,"type":"quantitative","axis":null},"y":{"field":"row","type":"nominal","axis":null,"bandPosition":0.5}}},
{"data":{"name":"rows"},"transform":[{"filter":"datum.panel === 'D'"}],"mark":{"type":"text","align":"right"},"encoding":{"x":{"datum":468,"type":"quantitative","axis":null},"y":{"field":"row","type":"nominal","axis":null,"bandPosition":0.5},"text":{"field":"hi","type":"quantitative","format":".2f"}}},
{"data":{"name":"rows"},"transform":[{"filter":"datum.panel === 'D'"}],"mark":{"type":"text","align":"left","text":"]"},"encoding":{"x":{"datum":468,"type":"quantitative","axis":null},"y":{"field":"row","type":"nominal","axis":null,"bandPosition":0.5}}},
{"data":{"name":"stats"},"transform":[{"filter":"datum.panel === 'D'"}],"mark":{"type":"text","align":"left"},"encoding":{"x":{"datum":5,"type":"quantitative","axis":null},"y":{"datum":"I2","type":"nominal","axis":null,"bandPosition":0.5},"text":{"field":"i2"}}},
{"data":{"name":"stats"},"transform":[{"filter":"datum.panel === 'D'"}],"mark":{"type":"text","align":"left"},"encoding":{"x":{"datum":5,"type":"quantitative","axis":null},"y":{"datum":"Test","type":"nominal","axis":null,"bandPosition":0.5},"text":{"field":"test"}}}
]},
{"width": 401, "height": 337, "layer": [
{"data":{"name":"headers"},"transform":[{"filter":"datum.row === 'PTE'"}],"mark":{"type":"rule","color":"black","strokeWidth":3},"encoding":{"y":{"datum":"s5","type":"nominal","scale":{"type":"band","domain":["PTE","s1","s2","Study","s4","s5","rule","s7","s8","ARIC","s10","s11","s12","CHS","s14","s15","s16","FHS","s18","s19","s20","s21","Overall","s23","s24","s25","I2","s27","s28","s29","Test","s31"],"paddingInner":0,"paddingOuter":0.35,"align":0},"axis":null,"bandPosition":0.8}}},
{"data":{"name":"rows"},"transform":[{"filter":"datum.panel === 'D' && datum.row !== 'Overall'"}],"mark":{"type":"rule","color":"#12365e","strokeWidth":3.5},"encoding":{"x":{"field":"lo","type":"quantitative","scale":{"domain":[-21.2,10],"nice":false,"zero":false},"axis":{"values":[-20,-10,0,10],"title":null,"grid":false,"labelFlush":false,"labelOverlap":false}},"x2":{"field":"hi"},"y":{"field":"row","type":"nominal","axis":null,"bandPosition":0.5}}},
{"data":{"name":"rows"},"transform":[{"filter":"datum.panel === 'D' && datum.row !== 'Overall'"}],"mark":{"type":"point","shape":"square","filled":true,"color":"#1d4a76","opacity":1},"encoding":{"x":{"field":"est","type":"quantitative","axis":{"values":[-20,-10,0,10],"title":null,"grid":false,"labelFlush":false,"labelOverlap":false}},"y":{"field":"row","type":"nominal","axis":null,"bandPosition":0.5},"size":{"field":"w","type":"quantitative","scale":{"range":[0,800],"zero":true},"legend":null}}},
{"data":{"name":"rows"},"transform":[{"filter":"datum.panel === 'D' && datum.row !== 'Overall'"}],"mark":{"type":"point","shape":"circle","filled":true,"color":"#f0890c","size":45,"opacity":1},"encoding":{"x":{"field":"est","type":"quantitative","axis":{"values":[-20,-10,0,10],"title":null,"grid":false,"labelFlush":false,"labelOverlap":false}},"y":{"field":"row","type":"nominal","axis":null,"bandPosition":0.5}}},
{"data":{"name":"rows"},"transform":[{"filter":"datum.panel === 'D' && datum.row === 'Overall'"}],"mark":{"type":"point","shape":"M-0.425,0L0,-1L0.425,0L0,1Z","filled":true,"color":"#8c3339","size":529,"opacity":1},"encoding":{"x":{"field":"est","type":"quantitative","axis":{"values":[-20,-10,0,10],"title":null,"grid":false,"labelFlush":false,"labelOverlap":false}},"y":{"field":"row","type":"nominal","axis":null,"bandPosition":0.5}}}
]}
]}
]}
],
"config": {
"view": {"stroke": null},
"font": "Liberation Sans",
"text": {"font": "Liberation Sans", "fontSize": 25.5, "color": "#000000", "baseline": "middle"},
"axis": {"labelFont": "Liberation Sans", "labelFontSize": 25.5, "labelColor": "#000000", "domainColor": "#3a3a3a", "domainWidth": 2, "tickColor": "#3a3a3a", "tickWidth": 2, "tickSize": 10, "labelPadding": 2, "grid": false},
"title": {"font": "Liberation Sans", "fontSize": 33, "fontWeight": "bold", "color": "#1b2a59", "anchor": "start", "offset": 13},
"locale": {"number": {"decimal": ".", "thousands": ",", "grouping": [3], "currency": ["$", ""], "minus": "-"}}
}
}
